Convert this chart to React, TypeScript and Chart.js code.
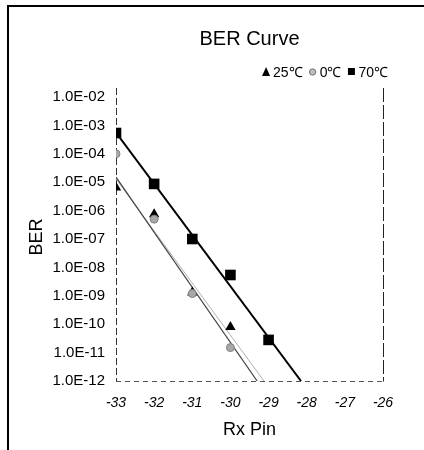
import React, { useEffect, useRef } from "react";
import { Chart, registerables } from "chart.js";

Chart.register(...registerables);

const chartTitle = "BER Curve";
const xTitle = "Rx Pin";
const yTitle = "BER";
const seriesLabels = ["25℃", "0℃", "70℃"];

const xTickValues = [-33, -32, -31, -30, -29, -28, -27, -26];
const yTickLabels = [
  "1.0E-12", "1.0E-11", "1.0E-10", "1.0E-09", "1.0E-08", "1.0E-07",
  "1.0E-06", "1.0E-05", "1.0E-04", "1.0E-03", "1.0E-02",
];

const rx25 = [-33, -32, -31, -30];
const ber25 = [6.5e-6, 7.5e-7, 1.3e-9, 8e-11];
const rx0 = [-33, -32, -31, -30];
const ber0 = [1.0e-4, 5.0e-7, 1.2e-9, 1.5e-11];
const rx70 = [-33, -32, -31, -30, -29];
const ber70 = [5.4e-4, 8.7e-6, 1.0e-7, 5.4e-9, 2.8e-11];

// trend lines
const trendRx70 = [-33, -28.15];
const trendBer70 = [5.6e-4, 1.0e-12];
const trendRx25 = [-33, -29.3];
const trendBer25 = [1.5e-5, 1.0e-12];
const trendRx0 = [-33, -29.12];
const trendBer0 = [1.3e-5, 1.0e-12];

const FONT = "'Liberation Sans', Arial, sans-serif";

const pts = (xs: number[], ys: number[]) => xs.map((x, i) => ({ x, y: ys[i] }));

const decor = {
  id: "decor",
  beforeDatasetsDraw(chart: any) {
    const { ctx, chartArea: a } = chart;
    ctx.save();
    ctx.lineWidth = 1;
    ctx.strokeStyle = "#333";
    ctx.setLineDash([7, 3]);
    ctx.beginPath();
    ctx.moveTo(a.left + 0.5, a.top - 9);
    ctx.lineTo(a.left + 0.5, a.bottom + 0.5);
    ctx.stroke();
    ctx.strokeStyle = "#555";
    ctx.setLineDash([5, 4]);
    ctx.beginPath();
    ctx.moveTo(a.left, a.bottom + 0.5);
    ctx.lineTo(a.right, a.bottom + 0.5);
    ctx.stroke();
    ctx.strokeStyle = "#222";
    ctx.setLineDash([14, 3]);
    ctx.beginPath();
    ctx.moveTo(a.right + 0.5, a.top - 9);
    ctx.lineTo(a.right + 0.5, a.bottom + 0.5);
    ctx.stroke();
    ctx.restore();
  },
  afterDraw(chart: any) {
    const { ctx, chartArea: a } = chart;
    const cx = (a.left + a.right) / 2;
    ctx.save();
    // outer frame
    ctx.strokeStyle = "#000";
    ctx.lineWidth = 2;
    ctx.beginPath();
    ctx.moveTo(8, 450);
    ctx.lineTo(8, 6);
    ctx.lineTo(424, 6);
    ctx.stroke();

    ctx.fillStyle = "#000";
    // title
    ctx.font = `20px ${FONT}`;
    ctx.textAlign = "center";
    ctx.textBaseline = "alphabetic";
    ctx.fillText(chartTitle, cx, 45);
    // x title
    ctx.font = `18px ${FONT}`;
    ctx.fillText(xTitle, cx, 435);
    // y title
    ctx.save();
    ctx.translate(42, 237);
    ctx.rotate(-Math.PI / 2);
    ctx.fillText(yTitle, 0, 0);
    ctx.restore();

    // legend (right-aligned to x=388)
    ctx.font = `14px ${FONT}`;
    ctx.textAlign = "left";
    const ly = 72;
    const by = 77;
    const markW = 8;
    const gapMark = 3;
    const gapItem = 6;
    const widths = seriesLabels.map((l) => ctx.measureText(l).width);
    const total = widths.reduce((s, w) => s + w, 0) + 3 * (markW + gapMark) + 2 * gapItem;
    let x = 388 - total;
    seriesLabels.forEach((label, i) => {
      const mx = x + markW / 2;
      ctx.fillStyle = "#000";
      if (i === 0) {
        ctx.beginPath();
        ctx.moveTo(mx, ly - 5);
        ctx.lineTo(mx + 4, ly + 4);
        ctx.lineTo(mx - 4, ly + 4);
        ctx.closePath();
        ctx.fill();
      } else if (i === 1) {
        ctx.beginPath();
        ctx.arc(mx, ly, 3.2, 0, Math.PI * 2);
        ctx.fillStyle = "#bbb";
        ctx.fill();
        ctx.strokeStyle = "#777";
        ctx.lineWidth = 1;
        ctx.stroke();
      } else {
        ctx.fillRect(mx - 3.5, ly - 4, 7, 7);
      }
      ctx.fillStyle = "#000";
      x += markW + gapMark;
      ctx.fillText(label, x, by);
      x += widths[i] + gapItem;
    });
    ctx.restore();
  },
};

export default function App() {
  const ref = useRef<HTMLCanvasElement | null>(null);
  useEffect(() => {
    if (!ref.current) return;
    const chart = new Chart(ref.current, {
      type: "scatter",
      data: {
        datasets: [
          {
            label: seriesLabels[1],
            data: pts(rx0, ber0),
            pointStyle: "circle",
            pointRadius: 4,
            backgroundColor: "#a8a8a8",
            borderColor: "#808080",
            borderWidth: 1,
            order: 1,
          },
          {
            label: seriesLabels[0],
            data: pts(rx25, ber25),
            pointStyle: "triangle",
            pointRadius: 6,
            backgroundColor: "#000",
            borderColor: "#000",
            borderWidth: 0,
            order: 2,
          },
          {
            label: seriesLabels[2],
            data: pts(rx70, ber70),
            pointStyle: "rect",
            pointRadius: 7.5,
            backgroundColor: "#000",
            borderColor: "#000",
            borderWidth: 0,
            order: 3,
          },
          {
            label: "trend70",
            data: pts(trendRx70, trendBer70),
            showLine: true,
            borderColor: "#000",
            borderWidth: 2,
            pointRadius: 0,
            order: 4,
          },
          {
            label: "trend25",
            data: pts(trendRx25, trendBer25),
            showLine: true,
            borderColor: "#444",
            borderWidth: 1.2,
            pointRadius: 0,
            order: 5,
          },
          {
            label: "trend0",
            data: pts(trendRx0, trendBer0),
            showLine: true,
            borderColor: "#b0b0b0",
            borderWidth: 1,
            pointRadius: 0,
            order: 6,
          },
        ],
      },
      options: {
        animation: false,
        responsive: false,
        layout: { padding: { left: 0, right: 41, top: 97, bottom: 0 } },
        plugins: {
          legend: { display: false },
          title: { display: false },
          tooltip: { enabled: false },
        },
        scales: {
          x: {
            type: "linear",
            min: -33,
            max: -26,
            afterFit: (s: any) => { s.height = 69; },
            afterBuildTicks: (s: any) => { s.ticks = xTickValues.map((v) => ({ value: v })); },
            grid: { display: false, drawTicks: false },
            border: { display: false },
            ticks: {
              color: "#000",
              padding: 14,
              font: { family: FONT, size: 14, style: "italic" },
              callback: (v: any) => String(v),
            },
          },
          y: {
            type: "logarithmic",
            min: 1e-12,
            max: 1e-2,
            afterFit: (s: any) => { s.width = 116; },
            afterBuildTicks: (s: any) => { s.ticks = yTickLabels.map((l) => ({ value: Number(l) })); },
            grid: { display: false, drawTicks: false },
            border: { display: false },
            ticks: {
              color: "#000",
              padding: 11,
              font: { family: FONT, size: 15 },
              callback: (v: any) => {
                const i = yTickLabels.findIndex((l) => Math.abs(Math.log10(Number(l)) - Math.log10(v)) < 1e-6);
                return i >= 0 ? yTickLabels[i] : "";
              },
            },
          },
        },
      },
      plugins: [decor],
    });
    return () => chart.destroy();
  }, []);
  return (
    <canvas
      ref={ref}
      width={424}
      height={450}
      style={{ position: "fixed", left: 0, top: 0, display: "block", background: "#fff" }}
    />
  );
}
